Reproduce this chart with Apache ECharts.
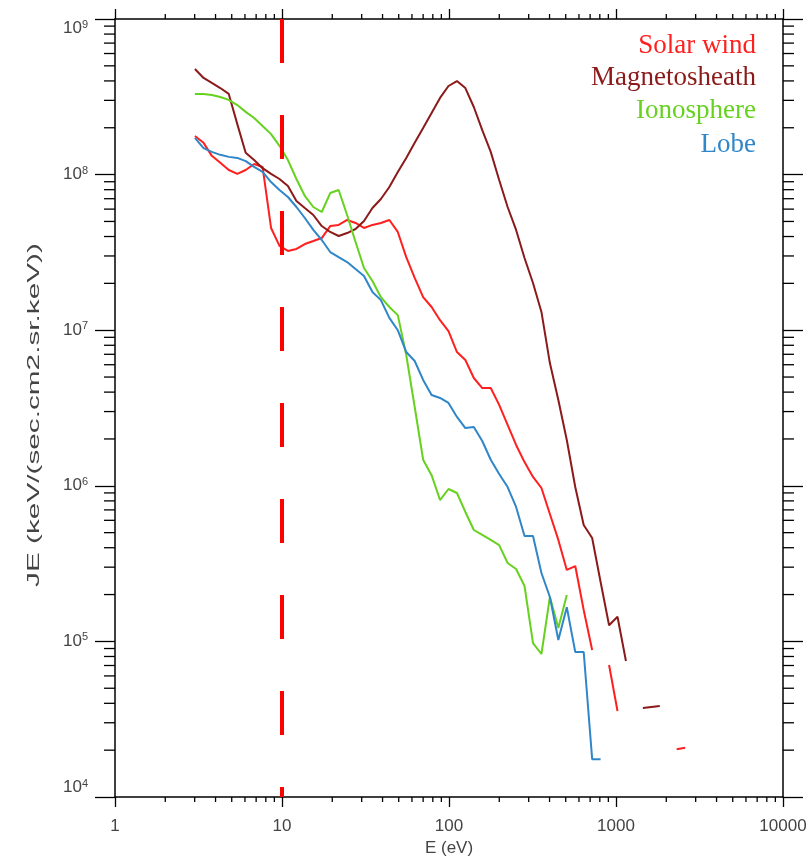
<!DOCTYPE html>
<html>
<head>
<meta charset="utf-8">
<script src="https://cdn.jsdelivr.net/npm/echarts@6/dist/echarts.min.js"></script>
<style>
html,body{margin:0;padding:0;background:#fff;}
#chart{width:810px;height:857px;}
</style>
</head>
<body>
<div id="chart"></div>
<script>
// Energy channels (eV)
const energies = [3.01, 3.39, 3.80, 4.27, 4.80, 5.40, 6.06, 6.81, 7.65, 8.60, 9.66, 10.85, 12.20, 13.70, 15.40, 17.30, 19.44, 21.84, 24.54, 27.57, 30.97, 34.80, 39.10, 43.93, 49.36, 55.46, 62.31, 70.01, 78.66, 88.38, 99.3, 111.6, 125.3, 140.8, 158.2, 177.8, 199.7, 224.4, 252.2, 283.3, 318.4, 357.7, 401.9, 451.6, 507.4, 570.2, 640.6, 719.8, 808.8, 908.8, 1021, 1147, 1289, 1448, 1627, 1828, 2054, 2308, 2594];

const solarWind = [1.77e8, 1.60e8, 1.32e8, 1.19e8, 1.07e8, 1.01e8, 1.07e8, 1.17e8, 1.12e8, 4.54e7, 3.48e7, 3.23e7, 3.33e7, 3.58e7, 3.74e7, 3.91e7, 4.67e7, 4.75e7, 5.11e7, 4.89e7, 4.54e7, 4.75e7, 4.89e7, 5.11e7, 4.28e7, 2.95e7, 2.17e7, 1.63e7, 1.41e7, 1.16e7, 9.88e6, 7.24e6, 6.43e6, 4.93e6, 4.25e6, 4.25e6, 3.31e6, 2.46e6, 1.83e6, 1.42e6, 1.14e6, 9.68e5, 6.59e5, 4.49e5, 2.88e5, 3.05e5, 1.59e5, 8.80e4, null, 7.05e4, 3.57e4, null, null, null, null, null, null, 2.03e4, 2.07e4];

const magnetosheath = [4.77e8, 4.18e8, 3.88e8, 3.60e8, 3.30e8, 2.11e8, 1.38e8, 1.24e8, 1.10e8, 1.01e8, 9.37e7, 8.45e7, 6.77e7, 6.10e7, 5.50e7, 4.67e7, 4.28e7, 4.03e7, 4.21e7, 4.47e7, 5.03e7, 6.10e7, 6.97e7, 8.32e7, 1.04e8, 1.28e8, 1.60e8, 1.99e8, 2.49e8, 3.11e8, 3.71e8, 3.99e8, 3.60e8, 2.72e8, 1.93e8, 1.40e8, 9.23e7, 6.19e7, 4.41e7, 2.91e7, 2.01e7, 1.31e7, 6.15e6, 3.56e6, 1.97e6, 9.82e5, 5.60e5, 4.62e5, 2.41e5, 1.27e5, 1.44e5, 7.48e4, null, 3.73e4, 3.79e4, 3.84e4];

const ionosphere = [3.30e8, 3.30e8, 3.25e8, 3.15e8, 3.02e8, 2.80e8, 2.53e8, 2.31e8, 2.05e8, 1.82e8, 1.53e8, 1.24e8, 9.37e7, 7.29e7, 6.19e7, 5.75e7, 7.61e7, 7.96e7, 5.50e7, 3.69e7, 2.51e7, 2.07e7, 1.63e7, 1.41e7, 1.25e7, 6.93e6, 3.21e6, 1.47e6, 1.17e6, 8.10e5, 9.54e5, 8.99e5, 6.79e5, 5.20e5, 4.83e5, 4.49e5, 4.16e5, 3.19e5, 2.92e5, 2.27e5, 9.76e4, 8.30e4, 1.93e5, 1.22e5, 1.99e5];

const lobe = [1.72e8, 1.48e8, 1.40e8, 1.34e8, 1.30e8, 1.28e8, 1.22e8, 1.12e8, 1.04e8, 8.96e7, 7.96e7, 7.18e7, 6.19e7, 5.26e7, 4.41e7, 3.80e7, 3.18e7, 2.95e7, 2.74e7, 2.47e7, 2.23e7, 1.76e7, 1.56e7, 1.20e7, 1.00e7, 7.24e6, 6.34e6, 4.79e6, 3.83e6, 3.67e6, 3.41e6, 2.77e6, 2.35e6, 2.39e6, 1.94e6, 1.47e6, 1.19e6, 9.82e5, 7.31e5, 4.76e5, 4.76e5, 2.75e5, 1.93e5, 1.02e5, 1.66e5, 8.55e4, 8.55e4, 1.75e4, 1.75e4];

const seriesNames = ['Solar wind', 'Magnetosheath', 'Ionosphere', 'Lobe'];
const refEnergy = 10;           // vertical dashed marker (eV)
const xMin = 1, xMax = 10000;
const yMin = 1e4, yMax = 1e9;
const xTickLabels = ['1', '10', '100', '1000', '10000'];
const xTitle = 'E (eV)';
const yTitle = 'JE (keV/(sec.cm2.sr.keV))';
const minorMultipliers = [2, 3, 4, 5, 6, 7, 8, 9];
const xDecades = [1, 10, 100, 1000];
const yDecades = [1e4, 1e5, 1e6, 1e7, 1e8];

const colors = ['#ff1f1f', '#8b1a1a', '#66d11f', '#2f86c9'];

function pairs(vals) {
  return vals.map((v, i) => [energies[i], v == null ? '-' : v]);
}

const xMinor = [];
xDecades.forEach(d => minorMultipliers.forEach(m => xMinor.push(d * m)));
const yMinor = [];
yDecades.forEach(d => minorMultipliers.forEach(m => yMinor.push(d * m)));

const axisColor = '#000';
const labelColor = '#444';
const labelFont = '"Liberation Sans", Arial, sans-serif';

function renderXMinor(params, api) {
  const cs = params.coordSys;
  const x = api.coord([api.value(0), 1e6])[0];
  const b = cs.y + cs.height, t = cs.y;
  return { type: 'group', children: [
    { type: 'line', shape: { x1: x, y1: b, x2: x, y2: b + 5 }, style: { stroke: axisColor, lineWidth: 1.3 } },
    { type: 'line', shape: { x1: x, y1: t, x2: x, y2: t - 5 }, style: { stroke: axisColor, lineWidth: 1.3 } }
  ]};
}
function renderYMinor(params, api) {
  const cs = params.coordSys;
  const y = api.coord([10, api.value(1)])[1];
  const l = cs.x, r = cs.x + cs.width;
  return { type: 'group', children: [
    { type: 'line', shape: { x1: l, y1: y, x2: l - 11, y2: y }, style: { stroke: axisColor, lineWidth: 1.3 } },
    { type: 'line', shape: { x1: r, y1: y, x2: r + 11, y2: y }, style: { stroke: axisColor, lineWidth: 1.3 } }
  ]};
}

const baseX = {
  type: 'log', logBase: 10, min: xMin, max: xMax,
  axisLine: { show: true, onZero: false, lineStyle: { color: axisColor, width: 1.5 } },
  axisTick: { show: true, inside: false, length: 10, lineStyle: { color: axisColor, width: 1.3 } },
  splitLine: { show: false }, minorTick: { show: false }
};
const baseY = {
  type: 'log', logBase: 10, min: yMin, max: yMax,
  axisLine: { show: true, onZero: false, lineStyle: { color: axisColor, width: 1.5 } },
  axisTick: { show: true, inside: false, length: 20, lineStyle: { color: axisColor, width: 1.3 } },
  splitLine: { show: false }, minorTick: { show: false }
};

const chart = echarts.init(document.getElementById('chart'), null, { renderer: 'canvas' });

const legendY = [46, 78, 111, 145];

chart.setOption({
  animation: false,
  backgroundColor: '#fff',
  grid: { left: 115, right: 27, top: 19, bottom: 60, containLabel: false, outerBoundsMode: 'none' },
  xAxis: [
    Object.assign({}, baseX, {
      position: 'bottom',
      name: xTitle, nameLocation: 'middle', nameGap: 41,
      nameTextStyle: { color: labelColor, fontFamily: labelFont, fontSize: 17 },
      axisLabel: {
        show: true, margin: 21, color: labelColor, fontFamily: labelFont, fontSize: 17,
        formatter: v => xTickLabels[Math.round(Math.log10(v))]
      }
    }),
    Object.assign({}, baseX, { position: 'top', axisLabel: { show: false } })
  ],
  yAxis: [
    Object.assign({}, baseY, {
      position: 'left',
      axisLabel: {
        show: true, margin: 27, color: labelColor,
        verticalAlignMinLabel: 'bottom', verticalAlignMaxLabel: 'top',
        formatter: v => '{b|10}{s|' + Math.round(Math.log10(v)) + '}',
        rich: {
          b: { fontFamily: labelFont, fontSize: 17, color: labelColor },
          s: { fontFamily: labelFont, fontSize: 11, color: labelColor, padding: [0, 0, 8, 0] }
        }
      }
    }),
    Object.assign({}, baseY, { position: 'right', axisLabel: { show: false } })
  ],
  graphic: [
    ...seriesNames.map((n, i) => ({
      type: 'text', x: 756, y: legendY[i], silent: true,
      style: { text: n, fill: colors[i], font: '27px "Liberation Serif", "Times New Roman", serif', textAlign: 'right', textVerticalAlign: 'middle' }
    })),
    { type: 'text', x: 34, y: 415, rotation: Math.PI / 2, scaleX: 1.75, silent: true,
      style: { text: yTitle, fill: labelColor, font: '17px "Liberation Sans", Arial, sans-serif', textAlign: 'center', textVerticalAlign: 'middle' } }
  ],
  series: [
    { type: 'custom', name: 'xMinor', renderItem: renderXMinor, clip: false, silent: true,
      xAxisIndex: 0, yAxisIndex: 0, data: xMinor.map(v => [v, 1e6]), encode: { x: 0, y: 1 }, z: 1 },
    { type: 'custom', name: 'yMinor', renderItem: renderYMinor, clip: false, silent: true,
      xAxisIndex: 0, yAxisIndex: 0, data: yMinor.map(v => [10, v]), encode: { x: 0, y: 1 }, z: 1 },
    ...[solarWind, magnetosheath, ionosphere, lobe].map((vals, i) => ({
      type: 'line', name: seriesNames[i], data: pairs(vals), showSymbol: false, symbol: 'none',
      connectNulls: false, silent: true, z: 3,
      lineStyle: { color: colors[i], width: 2 }
    })),
    { type: 'line', name: 'marker', data: [[refEnergy, yMax], [refEnergy, yMin]], symbol: 'none', silent: true, z: 5,
      lineStyle: { color: '#ff0000', width: 4, type: [44, 52] } }
  ]
});
</script>
</body>
</html>
